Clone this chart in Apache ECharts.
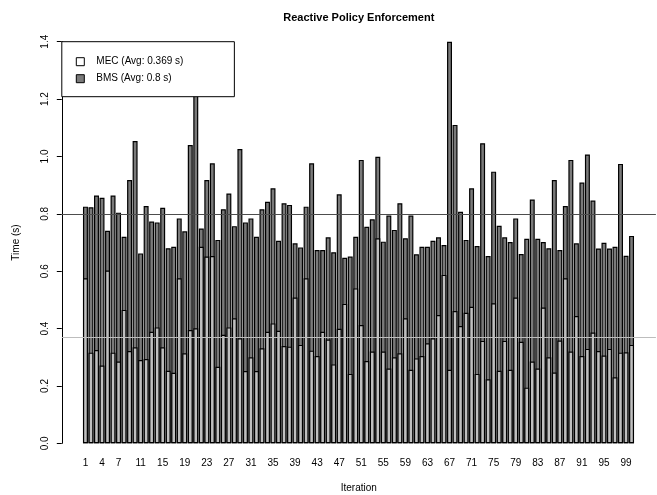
<!DOCTYPE html>
<html>
<head>
<meta charset="utf-8">
<title>Reactive Policy Enforcement</title>
<script src="https://cdn.jsdelivr.net/npm/echarts@6/dist/echarts.min.js"></script>
<style>
  html, body { margin: 0; padding: 0; background: #fff; }
  #chart { width: 657px; height: 495px; }
</style>
</head>
<body>
<div id="chart"></div>
<script>
// Per-iteration timings (seconds)
const MEC_TIMES = [
  0.575, 0.316, 0.325, 0.271, 0.602, 0.316, 0.285, 0.465, 0.322, 0.335,
  0.290, 0.294, 0.389, 0.404, 0.335, 0.253, 0.246, 0.575, 0.314, 0.395,
  0.401, 0.685, 0.651, 0.653, 0.267, 0.378, 0.404, 0.436, 0.366, 0.252,
  0.300, 0.252, 0.331, 0.389, 0.418, 0.392, 0.339, 0.337, 0.508, 0.343,
  0.575, 0.323, 0.304, 0.389, 0.362, 0.275, 0.399, 0.486, 0.242, 0.540,
  0.412, 0.287, 0.320, 0.715, 0.320, 0.261, 0.300, 0.314, 0.436, 0.256,
  0.296, 0.304, 0.349, 0.366, 0.447, 0.587, 0.256, 0.461, 0.409, 0.455,
  0.476, 0.242, 0.357, 0.223, 0.488, 0.253, 0.357, 0.256, 0.508, 0.354,
  0.194, 0.285, 0.261, 0.473, 0.300, 0.247, 0.358, 0.575, 0.320, 0.444,
  0.304, 0.329, 0.386, 0.322, 0.306, 0.329, 0.230, 0.316, 0.317, 0.343
];
const BMS_TIMES = [
  0.825, 0.823, 0.864, 0.856, 0.741, 0.864, 0.804, 0.720, 0.918, 1.054,
  0.662, 0.827, 0.773, 0.770, 0.821, 0.680, 0.685, 0.784, 0.739, 1.040,
  1.280, 0.749, 0.918, 0.976, 0.709, 0.816, 0.871, 0.757, 1.026, 0.770,
  0.784, 0.720, 0.816, 0.842, 0.889, 0.706, 0.837, 0.831, 0.697, 0.683,
  0.825, 0.976, 0.674, 0.674, 0.718, 0.666, 0.868, 0.647, 0.651, 0.720,
  0.988, 0.755, 0.781, 0.999, 0.703, 0.794, 0.744, 0.837, 0.715, 0.794,
  0.659, 0.685, 0.685, 0.706, 0.718, 0.691, 1.400, 1.110, 0.807, 0.709,
  0.889, 0.688, 1.046, 0.653, 0.947, 0.758, 0.718, 0.702, 0.784, 0.660,
  0.713, 0.850, 0.713, 0.702, 0.680, 0.918, 0.674, 0.827, 0.988, 0.697,
  0.909, 1.007, 0.846, 0.679, 0.699, 0.679, 0.685, 0.974, 0.654, 0.723
];
const MEC_AVG = 0.369;
const BMS_AVG = 0.8;

// Iteration numbers and the subset that gets a label
const ITERATIONS = Array.from({ length: MEC_TIMES.length }, (_, i) => String(i + 1));
const LABELED_ITERATIONS = ['1', '4', '7', '11', '15', '19', '23', '27', '31', '35', '39', '43', '47',
  '51', '55', '59', '63', '67', '71', '75', '79', '83', '87', '91', '95', '99'];
const Y_TICKS = { min: 0, max: 1.4, step: 0.2 };

const FONT = "'Liberation Sans', Arial, Helvetica, sans-serif";
const MEC_NAME = 'MEC (Avg: ' + MEC_AVG + ' s)';
const BMS_NAME = 'BMS (Avg: ' + BMS_AVG + ' s)';

// Layout of the plotting region
const PLOT_TOP = 41.7;
const PLOT_BOTTOM = 51.7;
const BAR_LEFT = 82.7;
const BAR_RIGHT = 22.7;
const REGION_LEFT = 61.8;
const REGION_RIGHT = 1.1;

const chart = echarts.init(document.getElementById('chart'), null, { renderer: 'canvas' });

const barBase = {
  type: 'bar',
  xAxisIndex: 0,
  yAxisIndex: 0,
  barGap: '-100%',
  barWidth: '90%',
  emphasis: { disabled: true },
  silent: true,
  z: 2
};

chart.setOption({
  animation: false,
  backgroundColor: '#ffffff',
  textStyle: { fontFamily: FONT, color: '#000' },
  grid: [
    { left: BAR_LEFT, right: BAR_RIGHT, top: PLOT_TOP, bottom: PLOT_BOTTOM, containLabel: false },
    { left: REGION_LEFT, right: REGION_RIGHT, top: PLOT_TOP, bottom: PLOT_BOTTOM, containLabel: false }
  ],
  xAxis: [
    {
      type: 'category',
      gridIndex: 0,
      data: ITERATIONS,
      boundaryGap: true,
      axisLine: { show: false },
      axisTick: { show: false },
      splitLine: { show: false },
      axisLabel: {
        interval: (idx, val) => LABELED_ITERATIONS.includes(val),
        fontFamily: FONT,
        fontSize: 10,
        color: '#000',
        margin: 15
      }
    },
    { type: 'value', gridIndex: 1, min: 0, max: 1, show: false }
  ],
  yAxis: [
    {
      type: 'value',
      gridIndex: 0,
      min: Y_TICKS.min,
      max: Y_TICKS.max,
      interval: Y_TICKS.step,
      offset: BAR_LEFT - REGION_LEFT,
      axisLine: { show: true, lineStyle: { color: '#000', width: 1 } },
      axisTick: { show: true, length: 5, lineStyle: { color: '#000', width: 1 } },
      splitLine: { show: false },
      axisLabel: {
        rotate: 90,
        fontFamily: FONT,
        fontSize: 10,
        color: '#000',
        margin: 12,
        formatter: v => v.toFixed(1)
      }
    },
    { type: 'value', gridIndex: 1, min: Y_TICKS.min, max: Y_TICKS.max, show: false }
  ],
  legend: {
    orient: 'vertical',
    left: REGION_LEFT,
    top: PLOT_TOP,
    padding: [15, 51, 13, 14],
    itemWidth: 8,
    itemHeight: 8,
    itemGap: 7,
    backgroundColor: '#ffffff',
    borderColor: '#000',
    borderWidth: 1,
    borderRadius: 0,
    icon: 'rect',
    selectedMode: false,
    textStyle: { fontFamily: FONT, fontSize: 10, color: '#000', padding: [0, 0, 0, 7] },
    data: [
      { name: MEC_NAME, itemStyle: { color: '#ffffff', borderColor: '#000', borderWidth: 1 } },
      { name: BMS_NAME, itemStyle: { color: '#7a7a7a', borderColor: '#000', borderWidth: 1 } }
    ]
  },
  graphic: [
    {
      type: 'text', x: 358.8, y: 18,
      style: { text: 'Reactive Policy Enforcement', font: 'bold 11px ' + FONT, fill: '#000',
        align: 'center', verticalAlign: 'middle', textAlign: 'center', textVerticalAlign: 'middle' }
    },
    {
      type: 'text', x: 358.8, y: 488,
      style: { text: 'Iteration', font: '10px ' + FONT, fill: '#000',
        align: 'center', verticalAlign: 'middle', textAlign: 'center', textVerticalAlign: 'middle' }
    },
    {
      type: 'text', x: 16, y: 242.5, rotation: Math.PI / 2,
      style: { text: 'Time (s)', font: '10px ' + FONT, fill: '#000',
        align: 'center', verticalAlign: 'middle', textAlign: 'center', textVerticalAlign: 'middle' }
    }
  ],
  series: [
    Object.assign({}, barBase, {
      name: BMS_NAME,
      data: BMS_TIMES,
      itemStyle: { color: '#7a7a7a', borderColor: '#000', borderWidth: 1.2 }
    }),
    Object.assign({}, barBase, {
      name: MEC_NAME,
      data: MEC_TIMES,
      itemStyle: { color: '#c0c0c0', borderColor: '#000', borderWidth: 1.2 }
    }),
    {
      // average reference lines across the full plotting region
      name: 'averages',
      type: 'line',
      xAxisIndex: 1,
      yAxisIndex: 1,
      data: [],
      silent: true,
      z: 3,
      markLine: {
        silent: true,
        symbol: ['none', 'none'],
        label: { show: false },
        animation: false,
        data: [
          { yAxis: MEC_AVG, lineStyle: { color: '#bdbdbd', width: 1, type: 'solid' } },
          { yAxis: BMS_AVG, lineStyle: { color: '#4d4d4d', width: 1, type: 'solid' } }
        ]
      }
    }
  ]
});
</script>
</body>
</html>
